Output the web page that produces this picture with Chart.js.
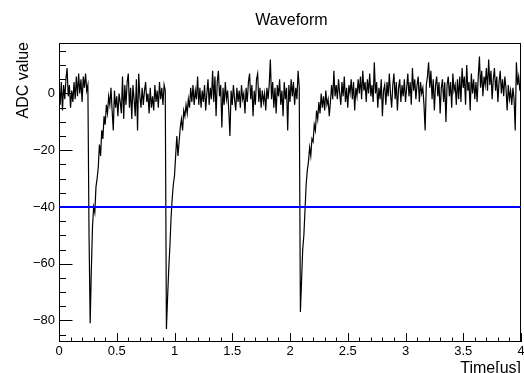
<!DOCTYPE html>
<html><head><meta charset="utf-8">
<script src="https://cdn.jsdelivr.net/npm/chart.js@4/dist/chart.umd.min.js"></script>
<style>html,body{margin:0;padding:0;background:#fff;overflow:hidden}#wrap{width:524px;height:373px}</style>
</head><body><div id="wrap"><canvas id="c" width="524" height="373"></canvas></div>
<script>
const chartTitle = 'Waveform';
const xTitle = 'Time[us]';
const yTitle = 'ADC value';
const sampleStart = 0;      // us
const sampleStep = 0.01;    // us per sample
const adcValues = [
 2,-4,4,-6,3,-2,5,9,-1,3,-5,1,-3,4,-2,6,-1,7,0,5,-3,6,2,7,1,
 3,-50,-81,-62,-47,-40,-42,-33,-30,-26,-18,-22,-13,-16,-8,-11,-4,-7,-1,-4,2,
 -6,-13,1,-5,-1,-8,0,-3,-7,6,-9,3,-4,4,7,-5,2,-9,3,-2,-8,5,-13,7,
 -1,-5,2,-4,1,4,-3,0,-7,2,-5,-1,-6,3,-3,1,-5,4,-2,2,-4,3,1,
 -83,-72,-62,-54,-44,-37,-32,-29,-22,-15,-22,-17,-12,-9,-13,-6,-8,-4,-7,-2,-5,2,
 -3,3,-4,1,-2,6,-4,2,
 -5,1,-3,3,-6,0,5,-4,2,
 -2,8,-3,6,-8,4,8,-1,
 3,-12,2,-4,4,-2,1,-6,
 -15,
 1,-4,3,-2,-6,2,-3,1,-5,3,-2,0,
 -7,2,-3,4,7,-2,3,-8,1,-4,5,7,-3,2,
 -5,1,-3,0,-6,2,-2,
 3,12,-2,
 4,-5,2,-7,3,-1,5,-4,1,-8,4,-2,2,
 -13,3,
 -3,5,-1,4,-4,2,-2,8,
 2,-77,-66,-55,-50,-41,-32,-27,-24,-19,-22,-16,-17,-11,-13,-6,-9,-3,-7,0,-5,-1,-6,1,-4,-2,-8,-3,3,-2,8,-1,
 3,-2,5,0,-4,4,-1,6,-3,2,-5,3,0,5,-2,4,-6,2,-1,5,0,
 6,-2,8,1,4,-3,5,0,7,-1,3,-3,
 11,
 0,4,-5,2,-2,5,-8,1,3,-4,4,-1,7,
 0,-5,3,7,-2,4,-6,2,5,-3,3,-1,
 5,-3,2,7,-1,4,-4,9,1,5,-2,3,6,-3,4,0,2,-4,
 -13,
 3,6,11,2,8,
 -2,5,-6,3,6,-1,4,-7,2,5,-3,4,-10,3,
 6,-1,4,-5,7,1,3,-4,5,-2,6,
 -3,9,2,6,-4,10,1,4,-6,7,0,5,-2,
 4,-3,6,13,2,8,
 -1,6,3,9,1,12,
 3,8,-2,5,9,1,6,-3,4,8,0,5,-1,6,
 2,-6,3,-2,1,-4,2,
 -2,-13,11,3,6,1,5
];
const thresholdValue = -40;
const xRange = [0, 4];
const yRange = [-87.6, 17.8];
const xTickValues = [0, 0.5, 1, 1.5, 2, 2.5, 3, 3.5, 4];
const yTickValues = [-80, -60, -40, -20, 0];
const xMinorStep = 0.1;
const yMinorStep = 5;

const FONT = "'Liberation Sans', Arial, Helvetica, sans-serif";

const wavePoints = adcValues.map((v, i) => ({ x: +(sampleStart + i * sampleStep).toFixed(4), y: v }));
const thresholdPoints = [{ x: xRange[0], y: thresholdValue }, { x: xRange[1], y: thresholdValue }];

function fmt(v) {
  const s = String(+v.toFixed(2));
  return s.replace('-', '\u2212');
}

const rootFrame = {
  id: 'rootFrame',
  beforeDatasetsDraw(chart) {
    const { ctx, chartArea: a, scales } = chart;
    const xs = scales.x, ys = scales.y;
    ctx.save();
    ctx.strokeStyle = '#000';
    ctx.lineWidth = 1;
    ctx.beginPath();
    const nx = Math.round((xRange[1] - xRange[0]) / xMinorStep);
    for (let k = 0; k <= nx; k++) {
      const v = xRange[0] + k * xMinorStep;
      const major = xTickValues.some(t => Math.abs(t - v) < 1e-6);
      const px = Math.round(xs.getPixelForValue(v)) + 0.5;
      const len = major ? 9 : 4.5;
      ctx.moveTo(px, a.bottom);
      ctx.lineTo(px, a.bottom - len);
    }
    const yStart = Math.ceil(yRange[0] / yMinorStep) * yMinorStep;
    for (let v = yStart; v <= yRange[1]; v += yMinorStep) {
      const major = yTickValues.some(t => Math.abs(t - v) < 1e-6);
      const py = Math.round(ys.getPixelForValue(v)) + 0.5;
      const len = major ? 13.5 : 7;
      ctx.moveTo(a.left, py);
      ctx.lineTo(a.left + len, py);
    }
    ctx.stroke();
    ctx.strokeRect(Math.round(a.left) + 0.5, Math.round(a.top) + 0.5, Math.round(a.right - a.left) - 1, Math.round(a.bottom - a.top) - 1);
    ctx.restore();
  },
  afterDraw(chart) {
    const { ctx, chartArea: a } = chart;
    ctx.save();
    ctx.fillStyle = '#000';
    ctx.font = '16px ' + FONT;
    ctx.textBaseline = 'alphabetic';
    ctx.textAlign = 'center';
    ctx.fillText(chartTitle, 291.5, 24.5);
    ctx.textAlign = 'right';
    ctx.fillText(xTitle, a.right, 372.5);
    ctx.translate(27.5, a.top - 1);
    ctx.rotate(-Math.PI / 2);
    ctx.textAlign = 'right';
    ctx.fillText(yTitle, 0, 0);
    ctx.restore();
  }
};

new Chart(document.getElementById('c'), {
  type: 'line',
  data: {
    datasets: [
      { data: wavePoints, borderColor: '#000', borderWidth: 1.2, pointRadius: 0, tension: 0, fill: false, order: 2 },
      { data: thresholdPoints, borderColor: '#0000ff', borderWidth: 2, pointRadius: 0, tension: 0, fill: false, order: 1 }
    ]
  },
  options: {
    responsive: false,
    animation: false,
    devicePixelRatio: 1,
    events: [],
    layout: { padding: { left: 0, right: 3, top: 43, bottom: 0 } },
    plugins: { legend: { display: false }, tooltip: { enabled: false }, title: { display: false } },
    scales: {
      x: {
        type: 'linear', min: xRange[0], max: xRange[1],
        afterBuildTicks: s => { s.ticks = xTickValues.map(v => ({ value: v })); },
        afterFit: s => { s.height = 31; s.paddingLeft = 0; s.paddingRight = 0; },
        grid: { display: false, drawTicks: false },
        border: { display: false },
        ticks: { color: '#000', font: { family: FONT, size: 13 }, padding: 2, maxRotation: 0, autoSkip: false, callback: v => fmt(v) }
      },
      y: {
        type: 'linear', min: yRange[0], max: yRange[1],
        afterBuildTicks: s => { s.ticks = yTickValues.map(v => ({ value: v })); },
        afterFit: s => { s.width = 59; s.paddingTop = 0; s.paddingBottom = 0; },
        grid: { display: false, drawTicks: false },
        border: { display: false },
        ticks: { color: '#000', font: { family: FONT, size: 13 }, padding: 4, autoSkip: false, callback: v => fmt(v) }
      }
    }
  },
  plugins: [rootFrame]
});
</script>
</body></html>
